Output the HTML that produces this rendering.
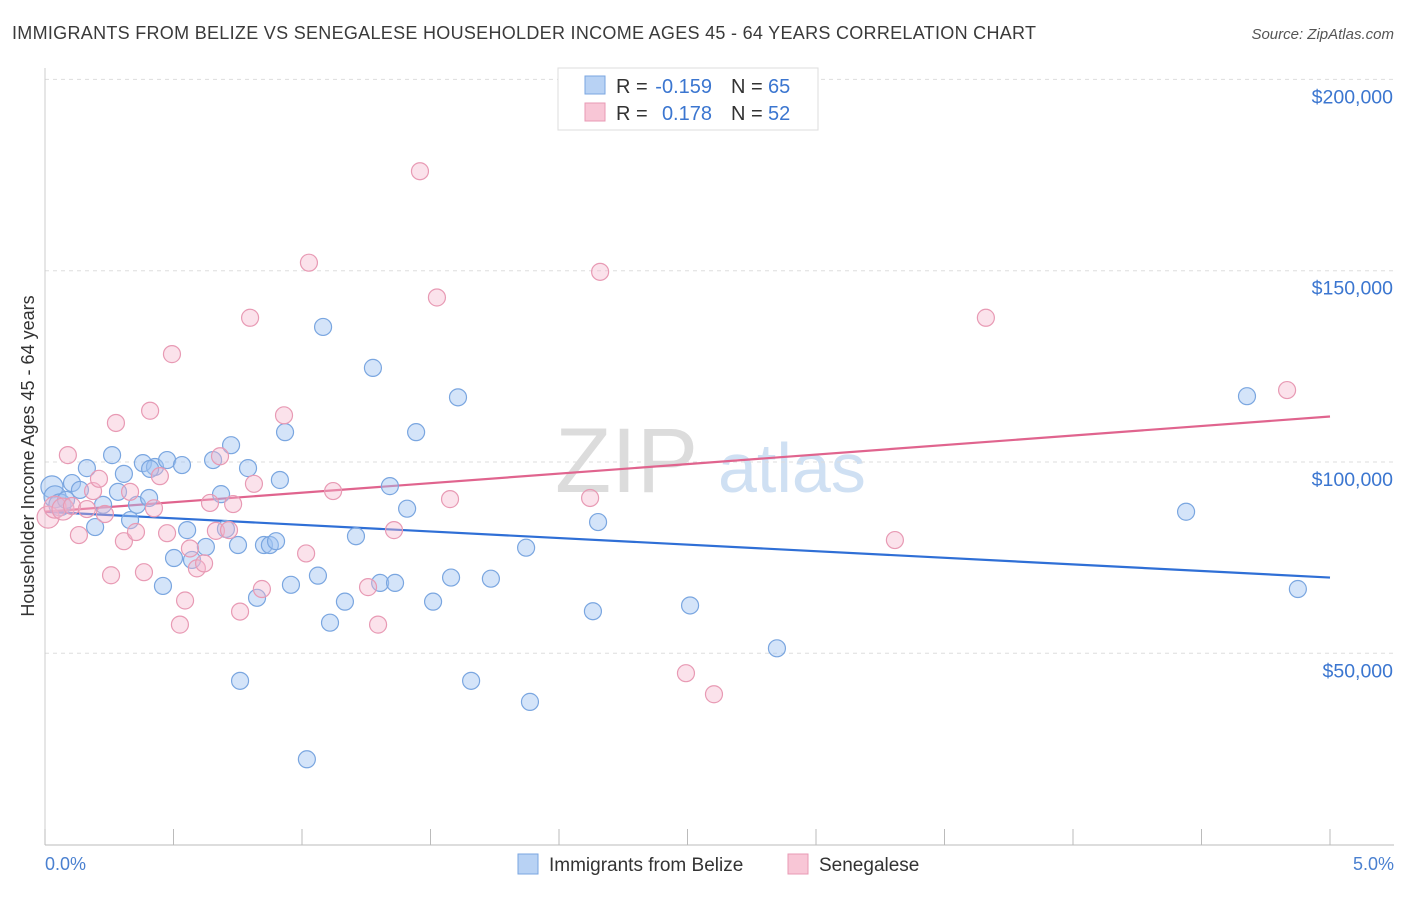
<!DOCTYPE html>
<html><head><meta charset="utf-8"><style>
body{margin:0;background:#fff;font-family:"Liberation Sans",sans-serif}
svg text{font-family:"Liberation Sans",sans-serif}
</style></head><body>
<svg id="chart" width="1406" height="892">
<text x="12" y="39" font-size="18" textLength="1024" fill="#3a3a3a">IMMIGRANTS FROM BELIZE VS SENEGALESE HOUSEHOLDER INCOME AGES 45 - 64 YEARS CORRELATION CHART</text>
<text x="1394" y="39" font-size="15" fill="#555" text-anchor="end" font-style="italic">Source: ZipAtlas.com</text>
<g><text x="555" y="492" font-size="92" fill="#dcdcdc" font-family="Liberation Serif">ZIP</text><text x="718" y="492" font-size="70" fill="#cfe0f3">atlas</text></g>
<g id="grid"></g><g id="axes"></g><g id="trend"></g><g id="pts"></g>
<text transform="translate(34,456) rotate(-90)" font-size="18" fill="#333" text-anchor="middle">Householder Income Ages 45 - 64 years</text>
<text x="45" y="870" font-size="18" fill="#4a80d0">0.0%</text>
<text x="1394" y="870" font-size="18" fill="#4a80d0" text-anchor="end">5.0%</text>
<g>
<rect x="558" y="68" width="260" height="62" fill="#fff" stroke="#ddd"/>
<rect x="585" y="76" width="20" height="18" fill="#b8d2f4" stroke="#7aa6e0"/>
<rect x="585" y="103" width="20" height="18" fill="#f8c6d6" stroke="#e89ab4"/>
<text x="616" y="93" font-size="20" fill="#333">R =</text><text x="712" y="93" font-size="20" fill="#3b76d0" text-anchor="end">-0.159</text>
<text x="731" y="93" font-size="20" fill="#333">N =</text><text x="768" y="93" font-size="20" fill="#3b76d0">65</text>
<text x="616" y="120" font-size="20" fill="#333">R =</text><text x="712" y="120" font-size="20" fill="#3b76d0" text-anchor="end">0.178</text>
<text x="731" y="120" font-size="20" fill="#333">N =</text><text x="768" y="120" font-size="20" fill="#3b76d0">52</text>
</g>
<g>
<rect x="518" y="854" width="20" height="20" fill="#b8d2f4" stroke="#7aa6e0"/>
<text x="549" y="871" font-size="19" fill="#333">Immigrants from Belize</text>
<rect x="788" y="854" width="20" height="20" fill="#f8c6d6" stroke="#e89ab4"/>
<text x="819" y="871" font-size="19" fill="#333">Senegalese</text>
</g>
</svg>
<script>
const yTicks=[50000,100000,150000,200000];
const yTickLabels=["$50,000","$100,000","$150,000","$200,000"];
const xTicks=[0,0.5,1,1.5,2,2.5,3,3.5,4,4.5,5];
const belizeX=[0.027,0.039,0.058,0.082,0.105,0.136,0.163,0.195,0.226,0.261,0.284,0.307,0.331,0.358,0.381,0.405,0.428,0.459,0.475,0.502,0.533,0.553,0.572,0.626,0.654,0.685,0.704,0.724,0.759,0.751,0.79,0.825,0.852,0.875,0.899,0.914,0.934,0.957,1.019,1.062,1.082,1.109,1.167,1.21,1.276,1.304,1.342,1.362,1.409,1.444,1.51,1.58,1.607,1.658,1.735,1.872,1.887,2.132,2.152,2.51,2.848,4.44,4.677,4.875,0.409];
const belizeY=[93.5,90.9,88.8,90.1,94.5,92.7,98.4,83,88.8,101.8,92.2,96.9,84.8,88.8,99.7,90.6,98.7,67.6,100.5,74.9,99.2,82.2,74.4,77.8,100.5,91.6,82.5,104.4,42.8,78.3,98.4,64.5,78.3,78.3,79.3,95.3,107.8,67.9,22.3,70.3,135.3,58,63.5,80.6,124.6,68.4,93.7,68.4,87.8,107.8,63.5,69.8,116.9,42.8,69.5,77.6,37.3,61,84.3,62.5,51.3,87,117.2,66.8,98.2];
const senX=[0.012,0.039,0.07,0.089,0.105,0.132,0.163,0.187,0.21,0.233,0.257,0.276,0.307,0.331,0.354,0.385,0.409,0.424,0.447,0.475,0.494,0.525,0.545,0.564,0.591,0.619,0.642,0.665,0.681,0.716,0.732,0.759,0.798,0.813,0.844,0.93,1.027,1.016,1.121,1.257,1.296,1.358,1.459,1.525,1.576,2.121,2.16,2.494,2.603,3.307,3.661,4.833];
const senY=[85.6,88.2,87.7,101.8,88.5,80.9,87.7,92.4,95.6,86.4,70.4,110.2,79.3,92.2,81.7,71.2,113.4,87.9,96.3,81.4,128.2,57.5,63.8,77.4,72.2,73.5,89.3,82,101.5,82.2,89,60.9,137.7,94.3,66.8,112.2,152.1,76.1,92.4,67.3,57.5,82.2,176,143,90.3,90.6,149.7,44.8,39.3,79.6,137.7,118.8];
const belizeTrend=[87,69.8];
const senTrend=[87,111.9];
const trendX=[0,5];
const NS="http://www.w3.org/2000/svg";
const xs=v=>45+v*257;
const ys=v=>844.6-v*3.826;
function mk(tag,attrs,parent){const e=document.createElementNS(NS,tag);for(const k in attrs)e.setAttribute(k,attrs[k]);document.getElementById(parent).appendChild(e);return e;}
yTicks.forEach((t,i)=>{
  const g=mk('line',{x1:45,x2:1394,y1:ys(t/1000),y2:ys(t/1000),stroke:'#ddd','stroke-dasharray':'4,4'},'grid');
  
  
  const tx=mk('text',{x:1393,y:ys(t/1000)+24,'font-size':19.5,fill:'#3b76d0','text-anchor':'end'},'grid');
  tx.textContent=yTickLabels[i];
  
  
});
const ax=mk('line',{x1:45,x2:1394,y1:845,y2:845,stroke:'#bbb'},'axes');


const ay=mk('line',{x1:45,x2:45,y1:68,y2:845,stroke:'#ccc'},'axes');


xTicks.forEach(t=>{
  const l=mk('line',{x1:xs(t),x2:xs(t),y1:829,y2:845,stroke:'#bbb'},'axes');
  
  
});
function pts(X,Y,fill,stroke,name){
  X.forEach((x,i)=>{
    const r=i<3?11:8.5;
    const c=mk('circle',{cx:xs(x),cy:ys(Y[i]),r:r,fill:fill,stroke:stroke,'stroke-width':1.2},'pts');
    
    
  });
}
pts(belizeX,belizeY,'rgba(160,195,242,0.45)','#7aa6e0','belize-point');
pts(senX,senY,'rgba(246,182,204,0.4)','#e89ab4','senegalese-point');
const tb=mk('line',{x1:xs(trendX[0]),x2:xs(trendX[1]),y1:ys(belizeTrend[0]),y2:ys(belizeTrend[1]),stroke:'#2f6fd6','stroke-width':2.2},'trend');


const tp=mk('line',{x1:xs(trendX[0]),x2:xs(trendX[1]),y1:ys(senTrend[0]),y2:ys(senTrend[1]),stroke:'#e0648e','stroke-width':2.2},'trend');


</script>
</body></html>
